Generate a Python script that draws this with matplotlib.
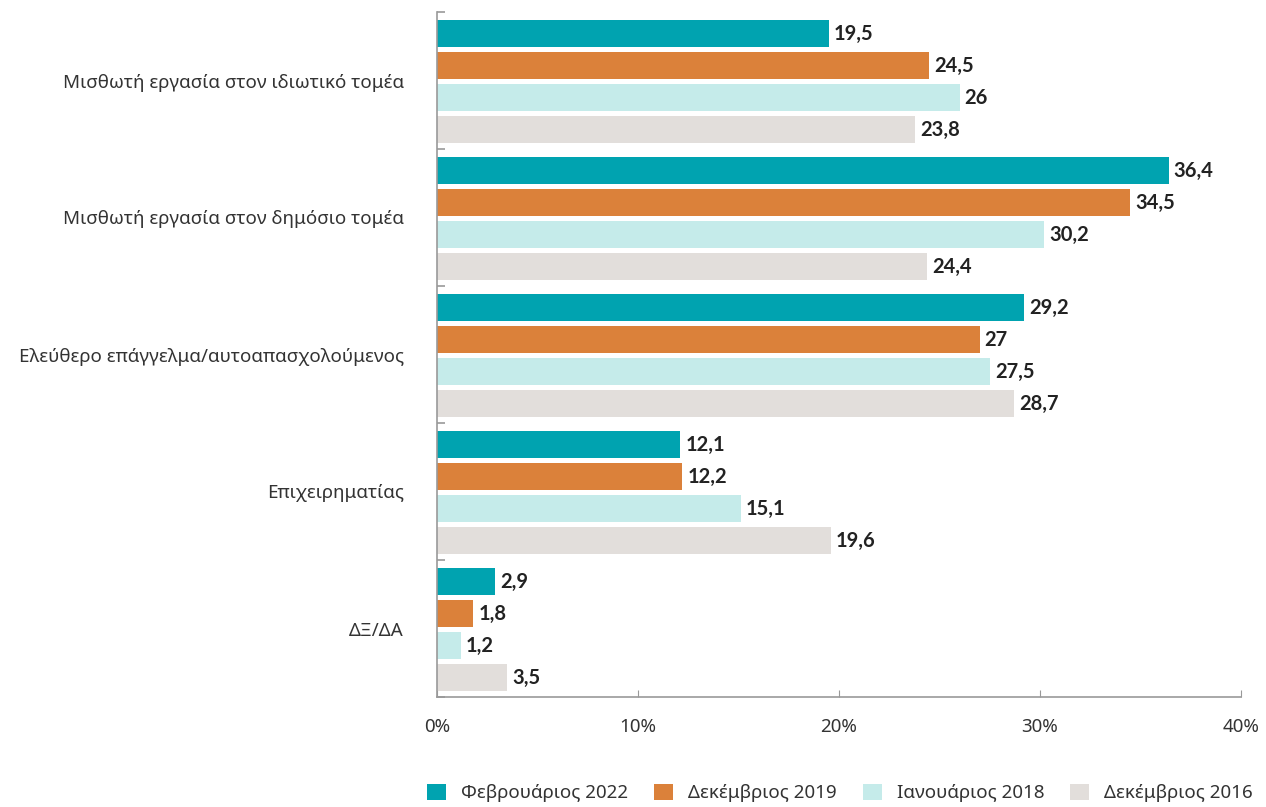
import matplotlib
matplotlib.use("Agg")
import matplotlib.pyplot as plt
import numpy as np
from matplotlib.patches import Patch

plt.rcParams['font.family'] = ['Noto Sans', 'DejaVu Sans']

categories = ["Μισθωτή εργασία στον ιδιωτικό τομέα",
              "Μισθωτή εργασία στον δημόσιο τομέα",
              "Ελεύθερο επάγγελμα/αυτοαπασχολούμενος",
              "Επιχειρηματίας",
              "ΔΞ/ΔΑ"]
series_names = ["Φεβρουάριος 2022", "Δεκέμβριος 2019", "Ιανουάριος 2018", "Δεκέμβριος 2016"]
feb2022 = [19.5, 36.4, 29.2, 12.1, 2.9]
dec2019 = [24.5, 34.5, 27.0, 12.2, 1.8]
jan2018 = [26.0, 30.2, 27.5, 15.1, 1.2]
dec2016 = [23.8, 24.4, 28.7, 19.6, 3.5]
series = [feb2022, dec2019, jan2018, dec2016]
colors = ["#00A3B0", "#DB813A", "#C5EBEA", "#E2DEDB"]
xticks = [0, 10, 20, 30, 40]

fig = plt.figure(figsize=(12.66, 8.07), dpi=100)
ax = fig.add_axes([437/1266, 1-697/807, (1241-437)/1266, (697-12)/807])

step = 0.2335
height = 0.197
y = np.arange(len(categories))
for i, (vals, c) in enumerate(zip(series, colors)):
    pos = y + (i - 1.5) * step + 0.01
    ax.barh(pos, vals, height=height, color=c, zorder=2)
    for p, v in zip(pos, vals):
        txt = (f"{v:.1f}".rstrip('0').rstrip('.')).replace('.', ',')
        ax.text(v + 0.25, p, txt, va='center', ha='left', fontsize=14.5,
                fontweight='bold', color='#222222', family=['Lato', 'DejaVu Sans'])

ax.set_ylim(4.5, -0.5)
ax.set_xlim(0, 40)
ax.set_yticks(y)
ax.set_yticklabels(categories, fontsize=13.5, color='#333333')
ax.set_yticks(np.arange(-0.5, 5.0, 1.0), minor=True)
ax.tick_params(axis='y', which='major', length=0, pad=24)
ax.tick_params(axis='y', which='minor', length=6, direction='in', color='#999999', width=1.2)
ax.set_xticks(xticks)
ax.set_xticklabels([f"{t}%" for t in xticks], fontsize=13.5, color='#333333')
ax.tick_params(axis='x', length=5, direction='in', color='#999999', pad=15)
for s in ['top', 'right']:
    ax.spines[s].set_visible(False)
for s in ['left', 'bottom']:
    ax.spines[s].set_color('#999999')
    ax.spines[s].set_linewidth(1.2)

handles = [Patch(facecolor=c, edgecolor='none') for c in colors]
fig.legend(handles, series_names, loc='center', bbox_to_anchor=(840/1266, 1-793/807),
           ncol=4, frameon=False, fontsize=13.5, handlelength=1.0, handleheight=1.0,
           handletextpad=0.8, columnspacing=1.4, labelcolor='#333333')

fig.savefig("out.png", dpi=100)
